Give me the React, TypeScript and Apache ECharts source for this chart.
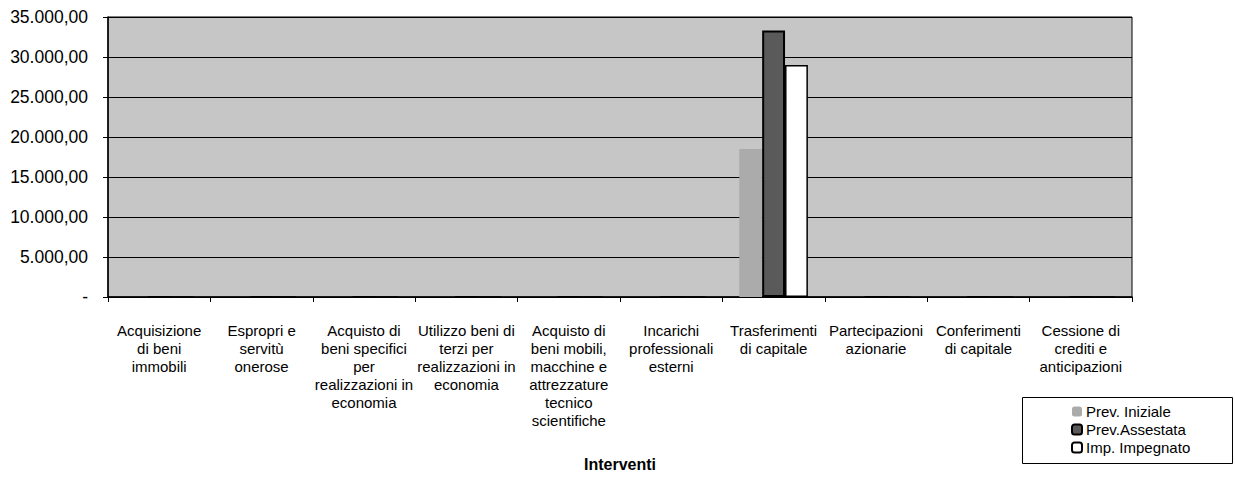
import React, { useEffect, useRef } from "react";
import * as echarts from "echarts";

const categories: string[] = [
  "Acquisizione\ndi beni\nimmobili",
  "Espropri e\nservitù\nonerose",
  "Acquisto di\nbeni specifici\nper\nrealizzazioni in\neconomia",
  "Utilizzo beni di\nterzi per\nrealizzazioni in\neconomia",
  "Acquisto di\nbeni mobili,\nmacchine e\nattrezzature\ntecnico\nscientifiche",
  "Incarichi\nprofessionali\nesterni",
  "Trasferimenti\ndi capitale",
  "Partecipazioni\nazionarie",
  "Conferimenti\ndi capitale",
  "Cessione di\ncrediti e\nanticipazioni",
];

const prevIniziale: number[] = [0, 0, 0, 0, 0, 0, 18500, 0, 0, 0];
const prevAssestata: number[] = [0, 0, 0, 0, 0, 0, 33300, 0, 0, 0];
const impImpegnato: number[] = [0, 0, 0, 0, 0, 0, 29000, 0, 0, 0];

const seriesNames: string[] = ["Prev. Iniziale", "Prev.Assestata", "Imp. Impegnato"];
const axisTitle = "Interventi";

const FONT = "'Liberation Sans', Arial, sans-serif";

function fmt(v: number): string {
  if (v === 0) return "-";
  const s = Math.round(v).toString().replace(/\B(?=(\d{3})+(?!\d))/g, ".");
  return s + ",00";
}

export default function App() {
  const ref = useRef<HTMLDivElement>(null);
  useEffect(() => {
    if (!ref.current) return;
    const chart = echarts.init(ref.current, undefined, { renderer: "svg" });
    chart.setOption({
      animation: false,
      backgroundColor: "#ffffff",
      grid: {
        left: 108,
        right: 103,
        top: 17,
        bottom: 170,
        show: true,
        backgroundColor: "#c6c6c6",
        borderColor: "#000000",
        borderWidth: 1,
      },
      xAxis: {
        type: "category",
        data: categories,
        name: axisTitle,
        nameLocation: "middle",
        nameGap: 159,
        nameTextStyle: { fontFamily: FONT, fontSize: 16, fontWeight: "bold", color: "#000" },
        axisLine: { lineStyle: { color: "#000", width: 1.5 } },
        axisTick: { show: true, length: 5, lineStyle: { color: "#000" } },
        axisLabel: {
          interval: 0,
          margin: 24,
          fontFamily: FONT,
          fontSize: 15,
          lineHeight: 18,
          color: "#000",
        },
      },
      yAxis: {
        type: "value",
        min: 0,
        max: 35000,
        interval: 5000,
        axisLine: { show: true, lineStyle: { color: "#000", width: 1.5 } },
        axisTick: { show: true, length: 5, lineStyle: { color: "#000" } },
        splitLine: { show: true, lineStyle: { color: "#000", width: 1.2 } },
        axisLabel: {
          formatter: (v: number) => fmt(v),
          margin: 20,
          fontFamily: FONT,
          fontSize: 17.5,
          color: "#000",
        },
      },
      legend: {
        orient: "vertical",
        left: 1066,
        top: 399,
        itemGap: 3,
        itemWidth: 10,
        itemHeight: 10,
        textStyle: { fontFamily: FONT, fontSize: 15, color: "#000", padding: [0, 0, 0, -1] },
        data: seriesNames,
      },
      graphic: [
        {
          type: "rect",
          left: 1022,
          top: 397,
          shape: { width: 210, height: 66 },
          style: { fill: "#fff", stroke: "#000", lineWidth: 1 },
          z: -1,
        },
      ],
      series: [
        {
          name: seriesNames[0],
          type: "bar",
          data: prevIniziale,
          barGap: "0%",
          barCategoryGap: "33%",
          itemStyle: { color: "#ababab", borderColor: "#a0a0a0", borderWidth: 0 },
        },
        {
          name: seriesNames[1],
          type: "bar",
          data: prevAssestata,
          itemStyle: { color: "#5a5a5a", borderColor: "#000", borderWidth: 2 },
        },
        {
          name: seriesNames[2],
          type: "bar",
          data: impImpegnato,
          itemStyle: { color: "#ffffff", borderColor: "#000", borderWidth: 1.5 },
        },
      ],
    });
    return () => chart.dispose();
  }, []);
  return <div ref={ref} style={{ width: 1235, height: 477, position: "absolute", left: 0, top: 0 }} />;
}
